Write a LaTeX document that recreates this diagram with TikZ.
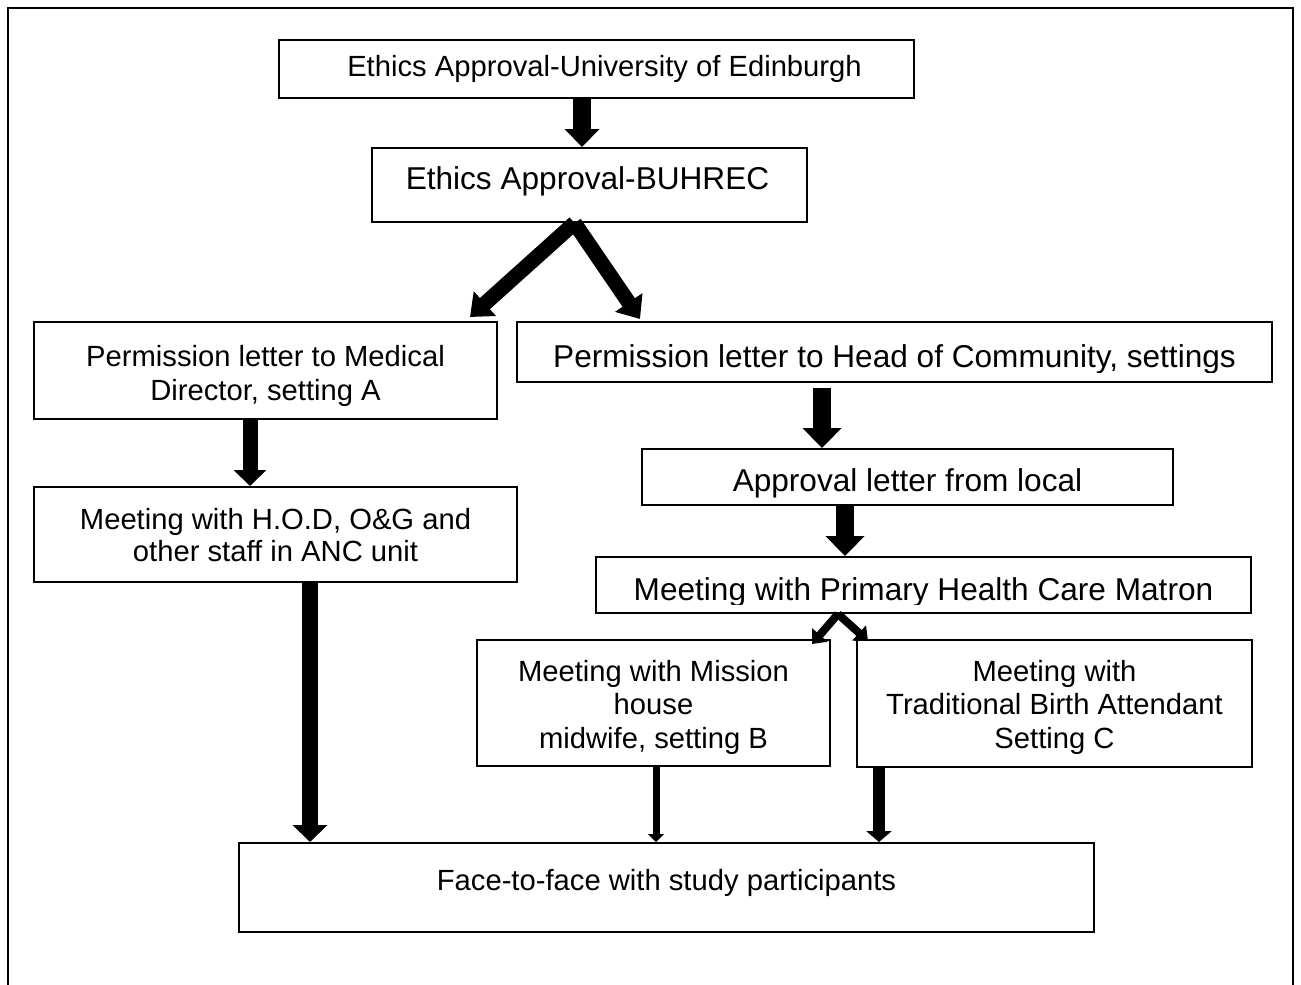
\documentclass[tikz,border=0pt]{standalone}
\usepackage{fontspec}
\setmainfont{Liberation Sans}
\usetikzlibrary{arrows.meta,fit,calc}

\tikzset{
  box/.style={draw, line width=1pt, inner sep=0pt},
  txt/.style={anchor=base, inner sep=0pt, font=\fontsize{14.6pt}{17pt}\selectfont},
  bigtxt/.style={anchor=base, inner sep=0pt, font=\fontsize{15.8pt}{19pt}\selectfont},
  arr/.style n args={3}{line width=#1, -{Triangle[width=#2,length=#3]}},
}

\begin{document}
\begin{tikzpicture}[x=0.5pt,y=-0.5pt]
\useasboundingbox (0,0) rectangle (1301,985);

% outer frame, open at the bottom
\draw[line width=1.25pt] (8,985) -- (8,8) -- (1293,8) -- (1293,985);

% boxes
\node[box, fit={(279,40) (914,98)}]   (edi)  {};
\node[box, fit={(372,148) (807,222)}] (buh)  {};
\node[box, fit={(34,322) (497,419)}]  (med)  {};
\node[box, fit={(517,322) (1272,382)}] (com) {};
\node[box, fit={(642,449) (1173,505)}] (app) {};
\node[box, fit={(34,487) (517,582)}]  (hod)  {};
\node[box, fit={(596,557) (1251,613)}] (mat) {};
\node[box, fit={(477,640) (830,766)}] (mis)  {};
\node[box, fit={(857,640) (1252,767)}] (tra) {};
\node[box, fit={(239,843) (1094,932)}] (face) {};

% texts
\node[txt] (edi-t) at (604.5,76.5) {Ethics Approval-University of Edinburgh};
\node[bigtxt] (buh-t) at (587.5,189) {Ethics Approval-BUHREC};
\node[txt] (med-a) at (265.5,366.5) {Permission letter to Medical};
\node[txt] (med-b) at (265.5,400.5) {Director, setting A};
\begin{scope}
  \clip (com.north west) rectangle ($(com.south east)+(0,-11)$);
  \node[bigtxt] (com-t) at (894.5,367) {Permission letter to Head of Community, settings};
\end{scope}
\node[bigtxt] (app-t) at (907.5,491) {Approval letter from local};
\node[txt] (hod-a) at (275.5,529.5) {Meeting with H.O.D, O\&G and};
\node[txt] (hod-b) at (275.5,561.5) {other staff in ANC unit};
\begin{scope}
  \clip (mat.north west) rectangle ($(mat.south east)+(0,-9.5)$);
  \node[bigtxt] (mat-t) at (923.5,600) {Meeting with Primary Health Care Matron};
\end{scope}
\node[txt] (mis-a) at (653.5,681.5) {Meeting with Mission};
\node[txt] (mis-b) at (653.5,714.5) {house};
\node[txt] (mis-c) at (653.5,748.5) {midwife, setting B};
\node[txt] (tra-a) at (1054.5,681.5) {Meeting with};
\node[txt] (tra-b) at (1054.5,714.5) {Traditional Birth Attendant};
\node[txt] (tra-c) at (1054.5,748.5) {Setting C};
\node[txt] (face-t) at (666.5,890.5) {Face-to-face with study participants};

% block arrows
\draw[arr={9pt}{17pt}{9pt}] ($(edi.south)+(-14.5,0)$) -- ($(buh.north)+(-7.5,0)$);
\draw[arr={7.5pt}{16pt}{10pt}] ($(buh.south)+(-15,0)$) -- ($(med.north)+(204.5,-4)$);
\draw[arr={7.5pt}{16pt}{10pt}] ($(buh.south)+(-15,0)$) -- ($(com.north)+(-254.5,-2)$);
\draw[arr={7.5pt}{16pt}{8pt}] ($(med.south)+(-15.5,0)$) -- ($(hod.north)+(-25.5,0)$);
\draw[arr={8pt}{17pt}{8.5pt}] ($(hod.south)+(34.5,0)$) -- ($(face.north)+(-356.5,0)$);
\draw[arr={9pt}{19pt}{10pt}] ($(com.south)+(-72.5,5)$) -- ($(app.north)+(-85.5,0)$);
\draw[arr={9pt}{19pt}{10pt}] ($(app.south)+(-62.5,0)$) -- ($(mat.north)+(-78.5,0)$);
\draw[arr={4pt}{10pt}{6pt}] ($(mat.south)+(-85.5,0)$) -- ($(mis.north)+(158.5,5)$);
\draw[arr={4pt}{10pt}{6pt}] ($(mat.south)+(-85.5,0)$) -- ($(tra.north)+(-186.5,2)$);
\draw[arr={3.5pt}{8pt}{4pt}] ($(mis.south)+(2.5,0)$) -- ($(face.north)+(-10.5,0)$);
\draw[arr={6pt}{12.5pt}{5.5pt}] ($(tra.south)+(-175.5,0)$) -- ($(face.north)+(212.5,0)$);
\end{tikzpicture}
\end{document}
